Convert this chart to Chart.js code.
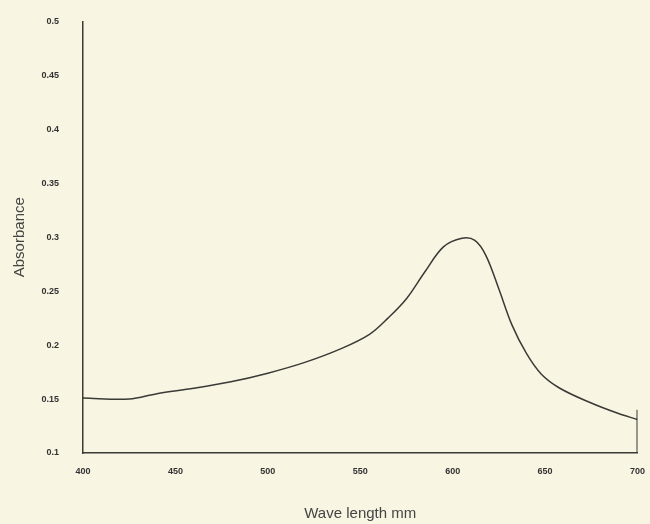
<!DOCTYPE html>
<html>
<head>
<meta charset="utf-8">
<script src="https://cdn.jsdelivr.net/npm/chart.js@4"></script>
<style>
  html, body { margin: 0; padding: 0; background: #f8f5e3; }
  #wrap { width: 650px; height: 524px; }
</style>
</head>
<body>
<div id="wrap"><canvas id="myChart" width="650" height="524"></canvas></div>
<script>
// spectre d'absorption
const waveLength = [400, 425, 440, 460, 480, 500, 520, 540, 555, 565, 575, 585, 595, 605, 612, 618, 625, 632, 640, 648, 658, 674, 689, 700];
const absorbance = [0.151, 0.150, 0.155, 0.160, 0.166, 0.174, 0.184, 0.197, 0.210, 0.225, 0.243, 0.268, 0.291, 0.299, 0.297, 0.283, 0.252, 0.219, 0.192, 0.173, 0.160, 0.147, 0.137, 0.131];

// petit trait vertical a droite du cadre
const edgeX = [700, 700];
const edgeY = [0.14, 0.1];

const inkColor = '#3a3a36';

new Chart(document.getElementById('myChart'), {
  type: 'line',
  data: {
    datasets: [{
      data: waveLength.map((w, i) => ({ x: w, y: absorbance[i] })),
      borderColor: inkColor,
      borderWidth: 1.5,
      pointRadius: 0,
      tension: 0.35,
      fill: false
    }, {
      data: edgeX.map((w, i) => ({ x: w, y: edgeY[i] })),
      borderColor: inkColor,
      borderWidth: 2,
      pointRadius: 0
    }]
  },
  options: {
    responsive: false,
    animation: false,
    layout: { padding: { top: 5, right: 4, left: 0, bottom: 0 } },
    plugins: {
      legend: { display: false },
      tooltip: { enabled: false }
    },
    scales: {
      x: {
        type: 'linear',
        min: 400,
        max: 700,
        grid: { display: false },
        border: { display: true, color: inkColor, width: 1.5 },
        ticks: {
          stepSize: 50,
          padding: 5,
          color: '#333',
          font: { family: 'Liberation Sans', size: 9, weight: 'bold' }
        },
        title: {
          display: true,
          text: 'Wave length mm',
          color: '#444',
          font: { family: 'Liberation Sans', size: 15 },
          padding: { top: 0, bottom: 1 }
        },
        afterFit: scale => { scale.height = 71; }
      },
      y: {
        min: 0.1,
        max: 0.5,
        grid: { display: false },
        border: { display: true, color: inkColor, width: 1.5 },
        ticks: {
          stepSize: 0.05,
          padding: 16,
          color: '#333',
          font: { family: 'Liberation Sans', size: 9, weight: 'bold' },
          callback: v => Number(v.toFixed(2)).toString()
        },
        title: {
          display: true,
          text: 'Absorbance',
          color: '#444',
          font: { family: 'Liberation Sans', size: 15 },
          padding: { top: 11, bottom: 0 }
        },
        afterFit: scale => { scale.width = 83; }
      }
    }
  }
});
</script>
</body>
</html>
